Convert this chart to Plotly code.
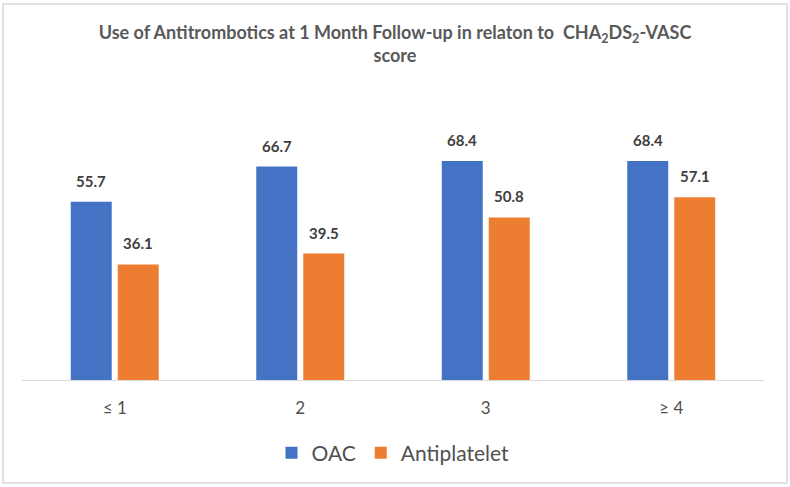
import plotly.graph_objects as go

# Data
categories = ['≤ 1', '2', '3', '≥ 4']
oac = [55.7, 66.7, 68.4, 68.4]
antiplatelet = [36.1, 39.5, 50.8, 57.1]

BLUE = '#4472C4'
ORANGE = '#ED7D31'
FONT = 'Lato'
TEXT = '#595959'

# plot area in pixels: x 22..764, y 124..380
L, R, T, B = 22, 26, 124, 107
PW, PH = 790 - L - R, 487 - T - B

fig = go.Figure()
for name, vals, color in [('OAC', oac, BLUE), ('Antiplatelet', antiplatelet, ORANGE)]:
    fig.add_trace(go.Bar(
        x=categories, y=vals, name=name,
        marker=dict(color=color, line=dict(width=0)),
    ))

# value labels above the bars (x given as category index, since '2'/'3' look numeric)
for vals, xs in [(oac, -23.5), (antiplatelet, 23.5)]:
    for i, v in enumerate(vals):
        fig.add_annotation(
            x=i, y=v, text=f'{v:.1f}', showarrow=False,
            xshift=xs, yshift=10, yanchor='bottom',
            font=dict(family=FONT, size=15, color='#404040', weight='bold'),
        )

fig.update_layout(
    width=790, height=487,
    margin=dict(l=L, r=R, t=T, b=B),
    paper_bgcolor='white', plot_bgcolor='white',
    barmode='group', bargap=0.4933, bargroupgap=0.128,
    font=dict(family=FONT, color=TEXT),
    title=dict(
        text='Use of Antitrombotics at 1 Month Follow-up in relaton to  CHA<sub>2</sub>DS<sub>2</sub>-VASC<br>score',
        x=0.5, xanchor='center', y=1 - 39 / 487, yanchor='middle', yref='container',
        font=dict(family=FONT, size=18, color=TEXT, weight='bold'),
    ),
    xaxis=dict(
        type='category',
        showline=True, linecolor='#D9D9D9', linewidth=1,
        showgrid=False, ticks='', ticklabelstandoff=13,
        tickfont=dict(family=FONT, size=17, color='#505050'),
    ),
    yaxis=dict(range=[0, 80], visible=False),
    legend=dict(
        orientation='h', x=0.5, xanchor='center', y=(380 - 453) / PH, yanchor='middle',
        font=dict(family=FONT, size=21, color='#505050'),
    ),
    shapes=[dict(
        type='rect', xref='paper', yref='paper',
        x0=(3 - L) / PW, x1=(787 - L) / PW,
        y0=(380 - 483) / PH, y1=(380 - 4) / PH,
        line=dict(color='#D9D9D9', width=1.5), layer='above',
    )],
)

fig.write_html("out.html", config={'displayModeBar': False},
               post_script="document.body.style.margin='0';")
